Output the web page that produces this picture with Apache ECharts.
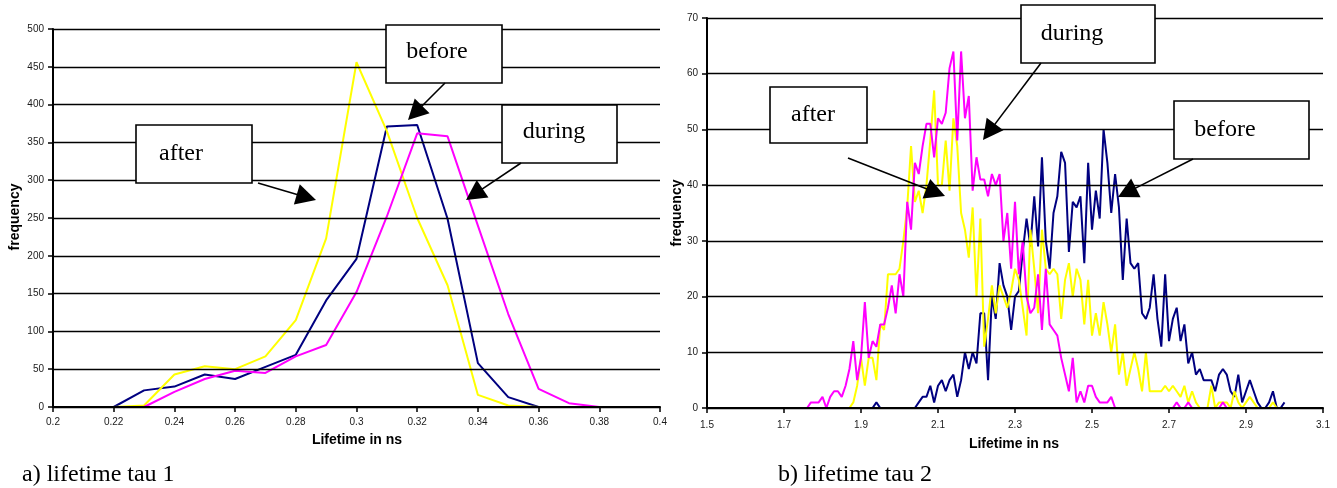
<!DOCTYPE html>
<html>
<head>
<meta charset="utf-8">
<script src="https://cdn.jsdelivr.net/npm/echarts@6/dist/echarts.min.js"></script>
<style>
  html, body { margin: 0; padding: 0; background: #ffffff; }
  #chart { width: 1337px; height: 488px; }
</style>
</head>
<body>
<div id="chart"></div>
<script>
// ---- lifetime tau 1 histogram (bins in ns, counts per bin) ----
const tau1Bins = [0.22, 0.23, 0.24, 0.25, 0.26, 0.27, 0.28, 0.29, 0.30, 0.31, 0.32, 0.33, 0.34, 0.35, 0.36, 0.37, 0.38];
const tau1Before = [0, 22, 27, 43, 37, 53, 69, 141, 196, 371, 373, 249, 58, 13, 0, null, null];
const tau1After  = [0, 2, 43, 54, 50, 67, 115, 223, 456, 365, 250, 161, 16, 2, 0, null, null];
const tau1During = [null, 0, 20, 37, 48, 45, 67, 82, 152, 252, 362, 358, 240, 123, 24, 5, 0];
const tau1TickLabels = ['0.2', '0.22', '0.24', '0.26', '0.28', '0.3', '0.32', '0.34', '0.36', '0.38', '0.4'];
const tau1YTicks = [0, 50, 100, 150, 200, 250, 300, 350, 400, 450, 500];

// ---- lifetime tau 2 histogram ----
const tau2Bins = [
  1.76, 1.77, 1.78, 1.79, 1.80, 1.81, 1.82, 1.83, 1.84, 1.85,
  1.86, 1.87, 1.88, 1.89, 1.90, 1.91, 1.92, 1.93, 1.94, 1.95,
  1.96, 1.97, 1.98, 1.99, 2.00, 2.01, 2.02, 2.03, 2.04, 2.05,
  2.06, 2.07, 2.08, 2.09, 2.10, 2.11, 2.12, 2.13, 2.14, 2.15,
  2.16, 2.17, 2.18, 2.19, 2.20, 2.21, 2.22, 2.23, 2.24, 2.25,
  2.26, 2.27, 2.28, 2.29, 2.30, 2.31, 2.32, 2.33, 2.34, 2.35,
  2.36, 2.37, 2.38, 2.39, 2.40, 2.41, 2.42, 2.43, 2.44, 2.45,
  2.46, 2.47, 2.48, 2.49, 2.50, 2.51, 2.52, 2.53, 2.54, 2.55,
  2.56, 2.57, 2.58, 2.59, 2.60, 2.61, 2.62, 2.63, 2.64, 2.65,
  2.66, 2.67, 2.68, 2.69, 2.70, 2.71, 2.72, 2.73, 2.74, 2.75,
  2.76, 2.77, 2.78, 2.79, 2.80, 2.81, 2.82, 2.83, 2.84, 2.85,
  2.86, 2.87, 2.88, 2.89, 2.90, 2.91, 2.92, 2.93, 2.94, 2.95,
  2.96, 2.97, 2.98, 2.99, 3.00
];
const tau2Before = [
  null, null, null, null, null, null, null, null, null, null,
  null, null, null, null, null, null, null, 0, 1, 0,
  0, 0, 0, 0, 0, 0, 0, 0, 0, 1,
  2, 2, 4, 1, 4, 5, 3, 5, 6, 2,
  5, 10, 7, 10, 8, 17, 17, 5, 20, 16,
  26, 22, 20, 14, 20, 21, 28, 34, 29, 38,
  29, 45, 30, 25, 35, 38, 46, 44, 28, 37,
  36, 38, 26, 44, 32, 39, 34, 50, 44, 35,
  42, 36, 23, 34, 26, 25, 26, 17, 16, 18,
  24, 16, 11, 24, 12, 16, 18, 12, 15, 8,
  10, 6, 7, 5, 5, 5, 3, 6, 7, 6,
  3, 2, 6, 1, 3, 5, 3, 1, 0, 0,
  1, 3, 0, 0, 1
];
const tau2After = [
  null, null, null, null, null, null, null, null, null, null,
  null, 0, 1, 4, 9, 4, 9, 9, 5, 15,
  14, 24, 24, 24, 25, 30, 36, 47, 37, 39,
  35, 40, 48, 57, 40, 40, 48, 39, 52, 47,
  35, 32, 27, 36, 20, 34, 11, 16, 22, 17,
  22, 20, 18, 21, 25, 23, 18, 13, 32, 25,
  17, 32, 25, 24, 25, 24, 16, 23, 26, 20,
  25, 23, 15, 23, 13, 17, 13, 19, 15, 10,
  15, 6, 10, 4, 7, 10, 7, 3, 10, 3,
  3, 3, 3, 4, 3, 4, 3, 2, 4, 1,
  3, 1, 0, 0, 0, 4, 0, 1, 1, 1,
  0, 3, 1, 0, 1, 2, 1, 0, 0, 0,
  0, 1, 0, 0, null
];
const tau2During = [
  0, 1, 1, 1, 2, 0, 2, 3, 3, 2,
  4, 7, 12, 5, 9, 19, 9, 12, 11, 15,
  15, 18, 22, 17, 24, 20, 37, 32, 44, 42,
  47, 51, 51, 45, 52, 51, 53, 61, 64, 48,
  64, 52, 56, 39, 45, 41, 41, 38, 42, 40,
  42, 30, 35, 25, 37, 24, 30, 20, 17, 18,
  24, 14, 25, 15, 14, 13, 9, 6, 3, 9,
  1, 3, 1, 4, 4, 2, 1, 1, 1, 2,
  0, 0, 0, 0, 0, 0, 0, 0, 0, 0,
  0, 0, 0, 0, 0, 0, 1, 0, 0, 1,
  0, 0, 0, 0, 0, 0, 0, 0, 1, 0,
  null, null, null, null, null, null, null, null, null, null,
  null, null, null, null, null
];
const tau2TickLabels = ['1.5', '1.7', '1.9', '2.1', '2.3', '2.5', '2.7', '2.9', '3.1'];
const tau2YTicks = [0, 10, 20, 30, 40, 50, 60, 70];

// axis origins: values are plotted relative to the first tick
const tau1Origin = 0.2, tau1Step = 0.02;
const tau2Origin = 1.5, tau2Step = 0.2;

const COLOR_BEFORE = '#000080';
const COLOR_AFTER = '#ffff00';
const COLOR_DURING = '#ff00ff';

function toPairs(bins, vals, origin) {
  return bins.map((b, i) => [b - origin, vals[i]]);
}

const tickFont = { fontFamily: 'Liberation Sans', fontSize: 10, color: '#1a1a1a' };

function xAxisFor(gridIndex, span, step, labels, margin) {
  return {
    type: 'value', gridIndex, min: 0, max: span, interval: step, z: 5,
    axisLine: { show: true, onZero: false, lineStyle: { color: '#000', width: 2 } },
    axisTick: { show: true, length: 5, lineStyle: { color: '#000', width: 1.5 } },
    axisLabel: Object.assign({ margin, formatter: v => labels[Math.round(v / step)] || '' }, tickFont),
    splitLine: { show: false }
  };
}
function yAxisFor(gridIndex, ticks) {
  return {
    type: 'value', gridIndex, min: ticks[0], max: ticks[ticks.length - 1],
    interval: ticks[1] - ticks[0], z: 5,
    axisLine: { show: true, lineStyle: { color: '#000', width: 2 } },
    axisTick: { show: true, length: 5, lineStyle: { color: '#000', width: 1.5 } },
    axisLabel: Object.assign({ margin: 9 }, tickFont),
    splitLine: { show: true, lineStyle: { color: '#000', width: 1.3 } }
  };
}
function lineSeries(name, data, color, axisIndex) {
  return {
    name, type: 'line', data, xAxisIndex: axisIndex, yAxisIndex: axisIndex,
    showSymbol: false, symbol: 'none', connectNulls: false,
    lineStyle: { color, width: 2 }, itemStyle: { color }, z: 2
  };
}

// ---- callouts: labelled boxes with arrows pointing at the curves ----
function box(x, y, w, h, label, tx, ty) {
  return [
    { type: 'rect', z: 100, shape: { x, y, width: w, height: h },
      style: { fill: '#fff', stroke: '#000', lineWidth: 1.6 } },
    { type: 'text', z: 101, x: tx, y: ty,
      style: { text: label, font: '24px "Liberation Serif"', fill: '#000',
               textAlign: 'center', textVerticalAlign: 'middle' } }
  ];
}
function arrow(sx, sy, tx, ty) {
  const dx = tx - sx, dy = ty - sy, len = Math.hypot(dx, dy);
  const ux = dx / len, uy = dy / len, nx = -uy, ny = ux;
  const headLen = 20, halfW = 10.5;
  const bx = tx - ux * headLen, by = ty - uy * headLen;
  return [
    { type: 'line', z: 100, shape: { x1: sx, y1: sy, x2: bx + ux * 2, y2: by + uy * 2 },
      style: { stroke: '#000', lineWidth: 1.6 } },
    { type: 'polygon', z: 100,
      shape: { points: [[tx, ty], [bx + nx * halfW, by + ny * halfW], [bx - nx * halfW, by - ny * halfW]] },
      style: { fill: '#000' } }
  ];
}
function caption(text, x, y, opts) {
  return Object.assign({ type: 'text', z: 101, x, y,
    style: Object.assign({ text, fill: '#000', textVerticalAlign: 'middle' }, opts) });
}

const titleFont = 'bold 14px "Liberation Sans"';
const graphics = [].concat(
  box(136, 125, 116, 58, 'after', 181, 154),
  arrow(258, 183, 316, 200),
  box(386, 25, 116, 58, 'before', 437, 52),
  arrow(445, 83, 408, 120),
  box(502, 105, 115, 58, 'during', 554, 132),
  arrow(521, 163, 466, 200),
  box(770, 87, 97, 56, 'after', 813, 115),
  arrow(848, 158, 945, 196),
  box(1021, 5, 134, 58, 'during', 1072, 34),
  arrow(1041, 63, 983, 140),
  box(1174, 101, 135, 58, 'before', 1225, 130),
  arrow(1193, 159, 1118, 197),
  [
    caption('Lifetime in ns', 357, 440, { font: titleFont, textAlign: 'center' }),
    caption('Lifetime in ns', 1014, 444, { font: titleFont, textAlign: 'center' }),
    Object.assign(caption('frequency', 15, 217, { font: titleFont, textAlign: 'center' }), { rotation: Math.PI / 2 }),
    Object.assign(caption('frequency', 677, 213, { font: titleFont, textAlign: 'center' }), { rotation: Math.PI / 2 }),
    caption('a) lifetime tau 1', 22, 475, { font: '24px "Liberation Serif"', textAlign: 'left' }),
    caption('b) lifetime tau 2', 778, 475, { font: '24px "Liberation Serif"', textAlign: 'left' })
  ]
);

const chart = echarts.init(document.getElementById('chart'), null, { renderer: 'canvas' });
chart.setOption({
  backgroundColor: '#ffffff',
  animation: false,
  grid: [
    { left: 53, top: 29, width: 607, height: 378, containLabel: false },
    { left: 707, top: 18, width: 616, height: 390, containLabel: false }
  ],
  xAxis: [
    xAxisFor(0, tau1Step * (tau1TickLabels.length - 1), tau1Step, tau1TickLabels, 10),
    xAxisFor(1, tau2Step * (tau2TickLabels.length - 1), tau2Step, tau2TickLabels, 12)
  ],
  yAxis: [yAxisFor(0, tau1YTicks), yAxisFor(1, tau2YTicks)],
  series: [
    lineSeries('before', toPairs(tau1Bins, tau1Before, tau1Origin), COLOR_BEFORE, 0),
    lineSeries('after', toPairs(tau1Bins, tau1After, tau1Origin), COLOR_AFTER, 0),
    lineSeries('during', toPairs(tau1Bins, tau1During, tau1Origin), COLOR_DURING, 0),
    lineSeries('before', toPairs(tau2Bins, tau2Before, tau2Origin), COLOR_BEFORE, 1),
    lineSeries('after', toPairs(tau2Bins, tau2After, tau2Origin), COLOR_AFTER, 1),
    lineSeries('during', toPairs(tau2Bins, tau2During, tau2Origin), COLOR_DURING, 1)
  ],
  graphic: graphics
});
</script>
</body>
</html>
